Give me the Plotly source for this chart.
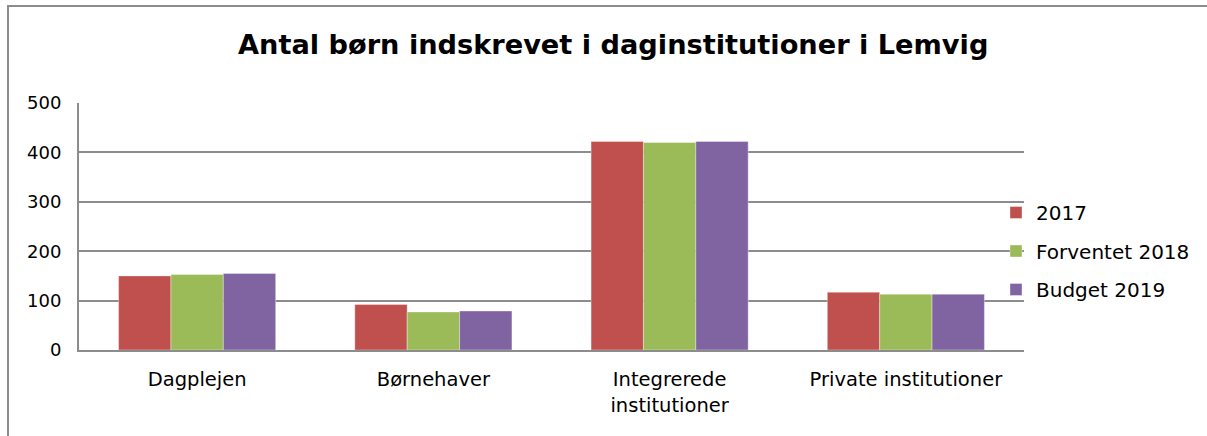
import plotly.graph_objects as go

categories = ["Dagplejen", "Børnehaver", "Integrerede<br>institutioner", "Private institutioner"]
series_names = ["2017", "Forventet 2018", "Budget 2019"]
values_2017 = [150, 92, 422, 117]
values_2018 = [153, 77, 420, 113]
values_2019 = [155, 79, 422, 113]
colors = ["#C0504D", "#9BBB59", "#8064A2"]
y_ticks = [0, 100, 200, 300, 400, 500]

W, H = 1207, 436
L, R, T, B = 79, W - 1024, 103, H - 350

fig = go.Figure()
for i, (name, vals) in enumerate(zip(series_names, [values_2017, values_2018, values_2019])):
    fig.add_trace(go.Bar(
        x=categories, y=vals, name=name, legendgroup=name,
        marker=dict(color=colors[i], line=dict(color="rgba(255,255,255,0.6)", width=0.6)),
    ))

pw, ph = W - L - R, H - T - B
def px_x(p):
    return (p - L) / pw
def px_y(p):
    return (H - B - p) / ph

fig.update_layout(
    width=W, height=H,
    margin=dict(l=L, r=R, t=T, b=B),
    paper_bgcolor="white", plot_bgcolor="white",
    font=dict(family="DejaVu Sans, Verdana, sans-serif", size=18, color="#000000"),
    barmode="group", bargap=0.335, bargroupgap=0,
    showlegend=True,
    legend=dict(x=px_x(996), xanchor="left", y=px_y(193), yanchor="top",
                tracegroupgap=9.5, font=dict(size=20), bgcolor="rgba(0,0,0,0)",
                borderwidth=0),
    xaxis=dict(showline=True, linecolor="#8c8c8c", linewidth=2, ticks="",
               tickfont=dict(size=19.5), showgrid=False, ticklabelstandoff=11),
    yaxis=dict(range=[0, 500], tickvals=y_ticks, showgrid=True, gridcolor="#8c8c8c",
               gridwidth=1.6, showline=True, linecolor="#8c8c8c", linewidth=2,
               ticks="", ticklabelstandoff=12, tickfont=dict(size=18), zeroline=False),
    annotations=[dict(text="<b>Antal børn indskrevet i daginstitutioner i Lemvig</b>",
                      xref="paper", yref="paper", x=px_x(613), y=px_y(44),
                      xanchor="center", yanchor="middle", showarrow=False,
                      font=dict(size=27.2, color="#000000"))],
    shapes=[dict(type="rect", xref="paper", yref="paper",
                 x0=px_x(8), x1=px_x(1212), y0=px_y(445), y1=px_y(6),
                 line=dict(color="#8c8c8c", width=2), layer="below")],
)

fig.write_html("out.html", config={"displayModeBar": False},
               post_script="document.body.style.margin='0';document.body.style.padding='0';")
